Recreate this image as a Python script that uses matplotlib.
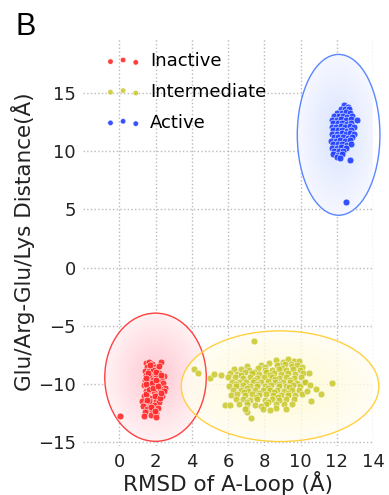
import matplotlib
matplotlib.use('Agg')
import matplotlib.pyplot as plt
import numpy as np
from matplotlib.patches import Ellipse
from matplotlib.colors import LinearSegmentedColormap

# ---------------- data ----------------
inactive_x = [1.45, 1.62, 1.80, 2.30, 1.55, 1.75, 1.95, 2.10, 1.40, 1.65, 1.88, 2.20, 2.45,
              1.50, 1.72, 1.95, 2.05, 2.30, 1.42, 1.60, 1.85, 2.15, 2.40, 2.55, 1.38, 1.55,
              1.78, 2.00, 2.25, 2.45, 1.45, 1.68, 1.90, 2.10, 2.35, 1.35, 1.58, 1.80, 2.00,
              2.20, 1.25, 1.48, 1.70, 1.92, 2.15, 1.30, 1.55, 1.80, 2.05, 1.40, 1.75, 2.00,
              1.60, 1.82, 2.05, 1.50, 1.95, 2.25, 1.65, 1.38, 1.70, 2.00, 1.48, 2.28, 1.62,
              1.88, 2.12, 1.75, 1.52, 2.32, 1.95, 1.45, 2.18, 0.02]
inactive_y = [-8.2, -8.1, -8.3, -8.1, -8.5, -8.6, -8.5, -8.7, -8.9, -8.9, -8.8, -9.0, -9.3,
              -9.2, -9.3, -9.1, -9.4, -9.5, -9.6, -9.7, -9.6, -9.8, -9.9, -10.3, -10.1, -10.2,
              -10.0, -10.2, -10.4, -10.6, -10.6, -10.5, -10.7, -10.9, -11.0, -11.0, -11.1, -11.2, -11.4,
              -11.5, -11.4, -11.6, -11.7, -11.8, -12.0, -11.9, -12.1, -12.2, -12.5, -12.4, -12.6, -12.8,
              -9.0, -9.9, -9.65, -10.8, -11.0, -11.2, -11.4, -12.7, -8.35, -8.95, -9.45, -9.25, -10.45,
              -10.35, -10.15, -11.95, -11.35, -10.75, -12.3, -10.0, -8.4, -12.7]

intermediate_x = [8.62, 9.05, 9.31, 9.63, 9.92, 8.85, 9.45,
                  7.05, 7.82, 8.28, 8.71, 9.12, 9.52, 9.81, 10.08, 8.05, 8.95,
                  6.32, 6.74, 7.18, 7.63, 8.02, 8.44, 8.83, 9.21, 9.58, 9.97, 7.41,
                  6.12, 6.48, 6.93, 7.31, 7.72, 8.12, 8.53, 8.91, 9.33, 9.71, 10.12, 6.71, 8.33,
                  6.02, 6.41, 6.83, 7.22, 7.58, 8.01, 8.42, 8.79, 9.18, 9.62, 10.03, 7.43, 8.61, 9.41,
                  6.21, 6.62, 7.01, 7.38, 7.81, 8.19, 8.58, 9.02, 9.43, 9.82, 10.18, 6.43, 7.61, 8.83,
                  6.03, 6.44, 6.81, 7.19, 7.62, 8.03, 8.38, 8.81, 9.22, 9.61, 9.98, 7.02, 8.21, 9.38,
                  6.28, 6.69, 7.12, 7.51, 7.93, 8.31, 8.72, 9.11, 9.52, 9.93, 6.88, 7.72, 8.52, 9.31,
                  6.14, 6.52, 6.91, 7.33, 7.71, 8.12, 8.49, 8.92, 9.31, 9.72, 10.08, 7.52, 8.73,
                  6.42, 6.83, 7.21, 7.61, 8.02, 8.41, 8.79, 9.22, 9.63, 7.02, 8.21,
                  6.63, 7.03, 7.48, 8.11, 8.62, 9.09, 9.52, 7.81,
                  7.01, 7.92, 8.63, 9.21, 8.31,
                  4.15, 4.34, 5.00, 5.20, 5.62, 7.42, 5.84, 6.12, 7.28, 7.07, 6.95,
                  10.46, 11.76, 10.84, 11.12, 10.60, 10.27, 10.35, 10.52]
intermediate_y = [-7.92, -8.08, -7.81, -8.02, -7.98, -8.35, -8.25,
                  -8.41, -8.32, -8.22, -8.38, -8.28, -8.43, -8.31, -8.52, -8.55, -8.6,
                  -8.72, -8.68, -8.81, -8.63, -8.74, -8.77, -8.66, -8.82, -8.71, -8.79, -8.95,
                  -9.02, -9.08, -8.97, -9.05, -9.12, -8.98, -9.06, -9.11, -9.03, -9.09, -9.01, -9.25, -9.22,
                  -9.42, -9.38, -9.45, -9.36, -9.48, -9.41, -9.35, -9.46, -9.39, -9.43, -9.37, -9.6, -9.58, -9.62,
                  -9.81, -9.77, -9.85, -9.79, -9.83, -9.76, -9.84, -9.78, -9.82, -9.86, -9.8, -10.0, -9.98, -10.02,
                  -10.12, -10.15, -10.08, -10.14, -10.11, -10.17, -10.09, -10.13, -10.16, -10.1, -10.12, -10.3, -10.32, -10.28,
                  -10.52, -10.48, -10.55, -10.47, -10.51, -10.53, -10.49, -10.54, -10.5, -10.46, -10.7, -10.72, -10.68, -10.71,
                  -10.91, -10.87, -10.94, -10.88, -10.92, -10.86, -10.93, -10.89, -10.95, -10.9, -10.88, -11.1, -11.12,
                  -11.31, -11.28, -11.34, -11.27, -11.32, -11.29, -11.33, -11.3, -11.26, -11.5, -11.52,
                  -11.72, -11.68, -11.75, -11.69, -11.73, -11.71, -11.66, -11.9,
                  -12.08, -12.12, -12.05, -12.1, -12.2,
                  -8.7, -9.0, -9.5, -9.1, -9.25, -6.3, -11.76, -11.76, -12.9, -12.4, -12.1,
                  -9.02, -9.88, -10.4, -10.8, -11.45, -9.8, -10.6, -10.1]

active_x = [12.42, 12.61,
            12.21, 12.46, 12.68,
            12.02, 12.27, 12.51, 12.74,
            11.86, 12.12, 12.34, 12.59, 12.83,
            11.76, 12.01, 12.24, 12.52, 12.77, 13.14,
            11.81, 12.06, 12.31, 12.54, 12.79,
            11.71, 11.96, 12.21, 12.44, 12.71, 12.93,
            11.79, 12.04, 12.31, 12.56, 12.81,
            11.74, 12.01, 12.26, 12.49, 12.74, 12.94,
            11.86, 12.09, 12.36, 12.61, 12.84,
            11.69, 11.96, 12.19, 12.46, 12.71,
            11.81, 12.04, 12.29, 12.56, 12.79,
            11.76, 12.01, 12.24, 12.51,
            11.84, 12.11, 12.34,
            11.79, 12.06, 12.29,
            12.01, 12.16,
            12.73, 12.53]
active_y = [13.92, 13.78,
            13.61, 13.58, 13.64,
            13.31, 13.27, 13.34, 13.29,
            13.02, 12.98, 13.05, 12.97, 13.03,
            12.71, 12.68, 12.74, 12.69, 12.72, 12.69,
            12.41, 12.38, 12.44, 12.37, 12.42,
            12.11, 12.08, 12.14, 12.07, 12.12, 12.09,
            11.81, 11.78, 11.84, 11.77, 11.82,
            11.51, 11.48, 11.54, 11.47, 11.52, 11.49,
            11.21, 11.18, 11.24, 11.17, 11.22,
            10.91, 10.88, 10.94, 10.87, 10.92,
            10.61, 10.58, 10.64, 10.57, 10.62,
            10.31, 10.28, 10.34, 10.27,
            10.01, 9.98, 10.04,
            9.72, 9.68, 9.74,
            9.46, 9.42,
            9.2, 5.66]

labels = ['Inactive', 'Intermediate', 'Active']

# ellipses: centre x, centre y, width, height
ell_cx = [2.0, 8.87, 12.1]
ell_cy = [-9.4, -10.17, 11.4]
ell_w = [5.6, 10.9, 4.56]
ell_h = [11.0, 9.5, 13.8]

# ---------------- figure ----------------
fig = plt.figure(figsize=(3.89, 4.95), dpi=100)
ax = fig.add_axes([0.2134, 0.099, 0.959 - 0.2134, 0.923 - 0.099])
ax.set_xlim(-2, 14)
ax.set_ylim(-15.3, 19.7)

edge_cols = ['#ff4040', '#ffd040', '#5a86ff']
centre_cols = ['#ffc8d2', '#fff8c8', '#dae3ff']
outer_cols = ['#fff2f4', '#fffef2', '#f6f8ff']

for i in [0, 1, 2]:
    cmap = LinearSegmentedColormap.from_list('g%d' % i, [centre_cols[i], outer_cols[i]])
    xs = np.linspace(ell_cx[i] - ell_w[i] / 2, ell_cx[i] + ell_w[i] / 2, 200)
    ys = np.linspace(ell_cy[i] - ell_h[i] / 2, ell_cy[i] + ell_h[i] / 2, 200)
    X, Y = np.meshgrid(xs, ys)
    R = np.sqrt(((X - ell_cx[i]) / (ell_w[i] / 2)) ** 2 + ((Y - ell_cy[i]) / (ell_h[i] / 2)) ** 2)
    R = np.clip(R, 0, 1)
    alpha = 0.8 if i == 1 else 1.0
    im = ax.imshow(R, cmap=cmap, extent=[xs[0], xs[-1], ys[0], ys[-1]], origin='lower',
                   aspect='auto', zorder=1, alpha=alpha)
    e = Ellipse((ell_cx[i], ell_cy[i]), ell_w[i], ell_h[i], facecolor='none',
                edgecolor=edge_cols[i], linewidth=1.0, zorder=2, clip_on=False)
    ax.add_patch(e)
    im.set_clip_path(e)
    im.set_clip_box(None)

ax.set_xlim(-2, 14)
ax.set_ylim(-15.3, 19.7)

ax.scatter(inactive_x, inactive_y, s=24, color='#ff2a2a', edgecolors='white',
           linewidths=0.4, alpha=0.9, zorder=3, label=labels[0])
ax.scatter(intermediate_x, intermediate_y, s=24, color='#c8c82a', edgecolors='white',
           linewidths=0.4, alpha=0.85, zorder=3, label=labels[1])
ax.scatter(active_x, active_y, s=24, color='#2040ff', edgecolors='white',
           linewidths=0.4, alpha=0.9, zorder=3, label=labels[2])

ax.grid(True, linestyle=':', color='#bbbbbb', linewidth=1.0)
ax.set_axisbelow(True)
for s in ax.spines.values():
    s.set_visible(False)
ax.tick_params(length=0, labelsize=13, colors='#222222', pad=5)
ax.set_xticks([0, 2, 4, 6, 8, 10, 12, 14])
ax.set_yticks([-15, -10, -5, 0, 5, 10, 15])

ax.set_xlabel('RMSD of A-Loop (Å)', fontsize=15.5, color='#222222', labelpad=0)
ax.set_ylabel('Glu/Arg-Glu/Lys Distance(Å)', fontsize=15.5, color='#222222', labelpad=2)

leg = ax.legend(loc='upper left', bbox_to_anchor=(0.02, 1.005), frameon=False, scatterpoints=3,
                markerscale=0.8, fontsize=13, handletextpad=0.5, labelspacing=0.7)

fig.text(0.04, 0.975, 'B', fontsize=22, family='Liberation Sans', va='top', ha='left')

fig.savefig('out.png', dpi=100)
